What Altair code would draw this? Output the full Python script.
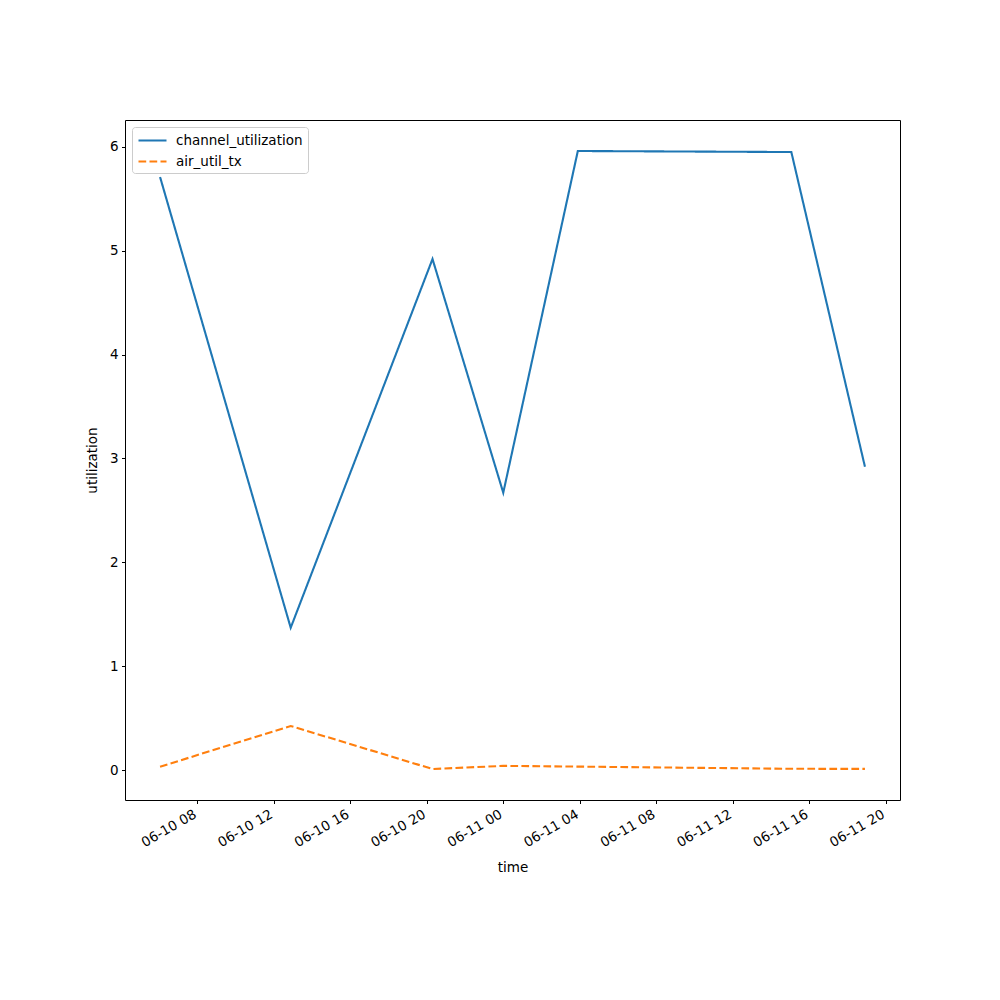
import altair as alt
import pandas as pd

times = [
    "2024-06-10T06:03:00",
    "2024-06-10T12:53:00",
    "2024-06-10T20:18:00",
    "2024-06-11T00:00:00",
    "2024-06-11T03:54:00",
    "2024-06-11T15:04:00",
    "2024-06-11T18:55:00",
]
channel_utilization = [5.71, 1.37, 4.92, 2.67, 5.96, 5.95, 2.92]
air_util_tx = [0.032, 0.424, 0.01, 0.04, 0.033, 0.012, 0.011]
series_names = ["channel_utilization", "air_util_tx"]
x_tick_hours = [
    (10, 8), (10, 12), (10, 16), (10, 20),
    (11, 0), (11, 4), (11, 8), (11, 12), (11, 16), (11, 20),
]
y_ticks = [0, 1, 2, 3, 4, 5, 6]

rows = []
for t, v in zip(times, channel_utilization):
    rows.append({"time": t, "value": v, "series": series_names[0]})
for t, v in zip(times, air_util_tx):
    rows.append({"time": t, "value": v, "series": series_names[1]})
df = pd.DataFrame(rows)

x_values = [alt.DateTime(year=2024, month=6, date=d, hours=h) for d, h in x_tick_hours]

chart = alt.Chart(df).mark_line(strokeWidth=2.1).encode(
    x=alt.X(
        "time:T",
        title="time",
        scale=alt.Scale(
            domain=[
                alt.DateTime(year=2024, month=6, date=10, hours=4, minutes=13),
                alt.DateTime(year=2024, month=6, date=11, hours=20, minutes=45),
            ],
            nice=False,
        ),
        axis=alt.Axis(
            values=x_values,
            format="%m-%d %H",
            labelAngle=330,
            labelAlign="right",
            labelBaseline="top",
            grid=False,
            tickSize=3.5,
            labelPadding=3.5,
            labelOffset=-6,
            titlePadding=11,
        ),
    ),
    y=alt.Y(
        "value:Q",
        title="utilization",
        scale=alt.Scale(domain=[-0.2885, 6.2585], nice=False, zero=False),
        axis=alt.Axis(values=y_ticks, grid=False, tickSize=3.5, labelPadding=3.5, titlePadding=10),
    ),
    color=alt.Color(
        "series:N",
        scale=alt.Scale(domain=series_names, range=["#1f77b4", "#ff7f0e"]),
        legend=alt.Legend(title=None),
    ),
    strokeDash=alt.StrokeDash(
        "series:N",
        scale=alt.Scale(domain=series_names, range=[[1, 0], [7.7, 3.3]]),
        legend=alt.Legend(title=None),
    ),
).properties(
    width=775,
    height=680,
    autosize=alt.AutoSizeParams(type="none"),
    padding={"left": 117, "top": 112, "right": 92, "bottom": 192},
).configure_view(
    stroke="black", strokeWidth=1
).configure_axis(
    labelFont="DejaVu Sans",
    titleFont="DejaVu Sans",
    labelFontSize=13.5,
    titleFontSize=13.5,
    titleFontWeight="normal",
    labelColor="black",
    titleColor="black",
    tickColor="black",
    domainColor="black",
    domain=False,
).configure_legend(
    orient="top-left",
    offset=7,
    padding=5,
    strokeColor="#cccccc",
    fillColor="white",
    cornerRadius=3,
    symbolType="M-1,0L3,0",
    symbolSize=196,
    symbolStrokeWidth=2.1,
    labelFont="DejaVu Sans",
    labelFontSize=13.5,
    labelColor="black",
    rowPadding=6,
    labelOffset=22,
)

chart.save("out.html", embed_options={"renderer": "svg", "actions": False})
